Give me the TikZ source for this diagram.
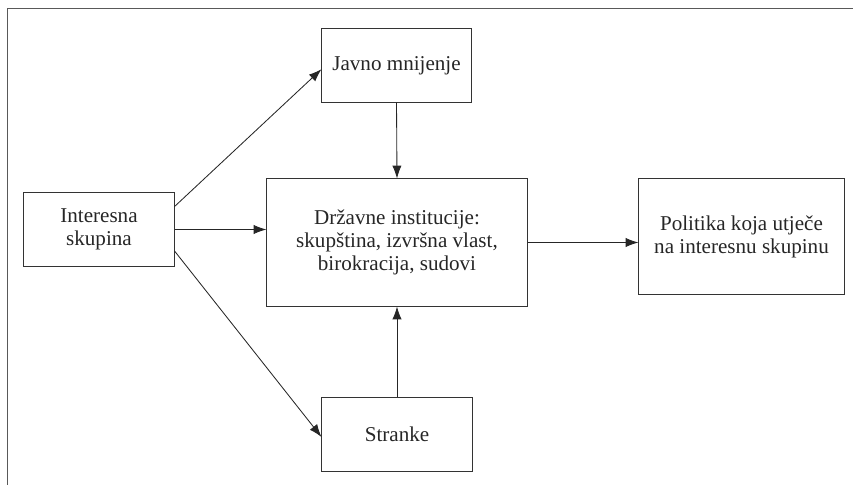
\documentclass[tikz,border=0pt]{standalone}
\usepackage{fontspec}
\setmainfont{Liberation Serif}
\usetikzlibrary{arrows.meta,calc}
\begin{document}
\begin{tikzpicture}[x=0.025cm,y=-0.025cm,
    box/.style={draw=black!80,line width=0.7pt,align=center,inner sep=0pt,
      text=black!85,font=\fontsize{15}{16.3}\selectfont},
    >={Latex[length=3.2mm,width=2.3mm]}]
  \useasboundingbox (0,0) rectangle (853,485);
  \draw[black!65,line width=0.7pt] (853,8) -- (7,8) -- (7,485);

  \node[box,minimum width=3.75cm,minimum height=1.825cm] (interes) at (99,229.5) {Interesna\\skupina};
  \node[box,minimum width=3.725cm,minimum height=1.825cm] (javno) at (396.5,65.5) {Javno mnijenje};
  \node[box,minimum width=6.5cm,minimum height=3.175cm] (drzavne) at (397,242.5)
    {Državne institucije:\\skupština, izvršna vlast,\\birokracija, sudovi};
  \node[box,minimum width=3.75cm,minimum height=1.85cm] (stranke) at (397,434) {Stranke};
  \node[box,minimum width=5.125cm,minimum height=2.875cm] (politika) at (741.5,236.5)
    {Politika koja utječe\\na interesnu skupinu};

  \draw[->,black!85,line width=0.6pt]
    ($(interes.north east)!0.19!(interes.south east)$) -- ($(javno.north west)!0.55!(javno.south west)$);
  \draw[->,black!85,line width=0.6pt]
    (interes.east) -- (interes.east -| drzavne.west);
  \draw[->,black!85,line width=0.6pt]
    ($(interes.north east)!0.79!(interes.south east)$) -- ($(stranke.north west)!0.54!(stranke.south west)$);
  \draw[->,black!85,line width=0.6pt]
    (javno.south) -- (drzavne.north);
  \draw[->,black!85,line width=0.6pt]
    (stranke.north) -- (drzavne.south);
  \draw[->,black!85,line width=0.6pt]
    (drzavne.east) -- (drzavne.east -| politika.west);
\end{tikzpicture}
\end{document}
